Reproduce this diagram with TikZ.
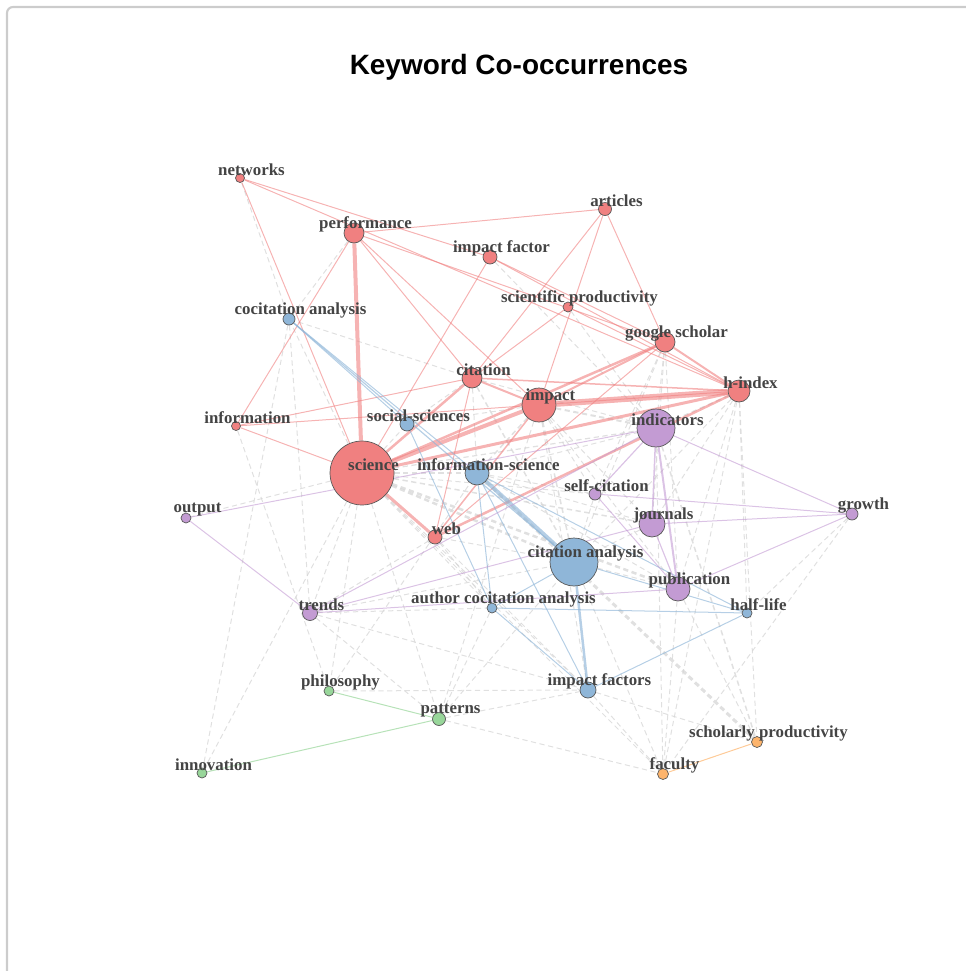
\documentclass[tikz,border=0pt]{standalone}
\usepackage{fontspec}
\newfontfamily\titlefont{Liberation Sans}
\newfontfamily\labelfont{Liberation Serif}
\pgfdeclarelayer{bg}
\pgfsetlayers{bg,main}
\definecolor{kwred}{HTML}{F08080}
\definecolor{kwblue}{HTML}{8FB6D8}
\definecolor{kwpurple}{HTML}{C39BD3}
\definecolor{kwgreen}{HTML}{98D69A}
\definecolor{kworange}{HTML}{FDB46C}
\definecolor{kwtext}{HTML}{444444}
\tikzstyle{kw}=[circle,draw=black!65,line width=0.4pt,inner sep=0pt]
\tikzstyle{lbl}=[xshift=0.23cm,yshift=0.17cm,inner sep=0pt,text=kwtext,font=\labelfont\bfseries\fontsize{9.6}{10}\selectfont]
\tikzstyle{redge}=[draw=kwred,opacity=0.6]
\tikzstyle{bedge}=[draw=kwblue,opacity=0.65]
\tikzstyle{pedge}=[draw=kwpurple,opacity=0.6]
\tikzstyle{gedge}=[draw=kwgreen,opacity=0.7]
\tikzstyle{oedge}=[draw=kworange,opacity=0.7]
\tikzstyle{xedge}=[draw=black!16,opacity=0.75,dash pattern=on 3pt off 2pt]

\begin{document}
\begin{tikzpicture}[x=0.02cm,y=-0.02cm]
	\def \px {0.57pt};
	\useasboundingbox (0,0) rectangle (966,971);
	\draw[black!20,line width=1.2pt,rounded corners=0.12cm] (966,7) -- (7,7) -- (7,975);
	\node[font=\titlefont\bfseries\fontsize{15.9}{19}\selectfont] (title) at (519,67) {Keyword Co-occurrences};

	\foreach \n/\x/\y/\rad/\lab in {NET/240/178/4.5/networks, PERF/354/233/10/performance,
		IF/490/257/7/impact factor, ART/605/209/6.5/articles, SP/568/307/5/scientific productivity,
		GS/665/342/10/google scholar, CIT/472/378/10/citation, IMP/539/405/17/impact,
		HI/739/391/11/h-index, INF/236/426/4.5/information, SCI/362/473/32/science, WEB/435/537/7/web} {
		\node[kw,fill=kwred,minimum size=\rad*0.04cm,label={[lbl]center:\lab}] (\n) at (\x,\y) {};
	};
	\foreach \n/\x/\y/\rad/\lab in {COC/289/319/6/cocitation analysis, SOC/407/424/7/social-sciences,
		ISC/477/473/12/information-science, CAN/574/562/24/citation analysis,
		ACA/492/608/5/author cocitation analysis, HL/747/613/5/half-life, IFS/588/690/8/impact factors} {
		\node[kw,fill=kwblue,minimum size=\rad*0.04cm,label={[lbl]center:\lab}] (\n) at (\x,\y) {};
	};
	\foreach \n/\x/\y/\rad/\lab in {IND/656/428/19/indicators, SELF/595/494/6/self-citation,
		JOU/652/524/13/journals, GRO/852/514/6/growth, PUB/678/589/12/publication,
		OUT/186/518/5/output, TRE/310/613/7.5/trends} {
		\node[kw,fill=kwpurple,minimum size=\rad*0.04cm,label={[lbl]center:\lab}] (\n) at (\x,\y) {};
	};
	\foreach \n/\x/\y/\rad/\lab in {PHI/329/691/5/philosophy, PAT/439/719/6.5/patterns, INN/202/773/5/innovation} {
		\node[kw,fill=kwgreen,minimum size=\rad*0.04cm,label={[lbl]center:\lab}] (\n) at (\x,\y) {};
	};
	\foreach \n/\x/\y/\rad/\lab in {SCH/757/742/5.5/scholarly productivity, FAC/663/774/5.5/faculty} {
		\node[kw,fill=kworange,minimum size=\rad*0.04cm,label={[lbl]center:\lab}] (\n) at (\x,\y) {};
	};

	\begin{pgfonlayer}{bg}
	\foreach \a/\b/\w in {ISC/SCH/3, SCI/PUB/2.5, SCI/CAN/2.5, SCI/JOU/1.5, SCI/IND/1.2, SCI/ISC/1.5,
		SCI/SOC/1, SCI/TRE/1, SCI/PHI/1, SCI/PAT/1, SCI/INN/1, SCI/OUT/1, SCI/ACA/1, SCI/IFS/1,
		SCI/FAC/1, SCI/SELF/1, SCI/COC/1, IMP/IND/2, IMP/CAN/1.5, IMP/ISC/1.5, IMP/JOU/1, IMP/PUB/1,
		IMP/SELF/1, IMP/IFS/1, IMP/SOC/1, IMP/PAT/1, HI/IND/1.5, HI/JOU/1, HI/PUB/1, HI/FAC/1,
		HI/HL/1, HI/SCH/1, HI/CAN/1, GS/IND/1, GS/JOU/1, GS/PUB/1, GS/SELF/1, GS/CAN/1,
		CIT/CAN/1.5, CIT/ISC/1, CIT/SOC/1, CIT/COC/1, CIT/IND/1, WEB/CAN/1, WEB/TRE/1, WEB/ACA/1,
		WEB/IFS/1, PERF/COC/1, NET/COC/1, INF/PHI/1, COC/TRE/1, COC/INN/1, TRE/PAT/1, TRE/IFS/1,
		TRE/ACA/1, TRE/CAN/1, PHI/ISC/1, PHI/IFS/1, PAT/CAN/1, PAT/ACA/1, PAT/FAC/1, PAT/IFS/1,
		IFS/SCH/1, IFS/FAC/1, PUB/FAC/1, PUB/SCH/1, IND/SCH/1.5, IND/FAC/1, CAN/PUB/1, CAN/JOU/1,
		CAN/SELF/1, CAN/FAC/1, ISC/PUB/1, ISC/JOU/1, ISC/SELF/1, ISC/IND/1, SP/IND/1, IF/IND/1,
		GRO/FAC/1, GRO/HL/1} {
		\draw[xedge,line width=\w*\px] (\a) -- (\b);
	};
	\foreach \a/\b/\w in {SCI/PERF/4, SCI/HI/3, SCI/IMP/4, SCI/GS/2.5, SCI/CIT/2.5, SCI/WEB/3,
		SCI/INF/1, SCI/IF/1, SCI/NET/1, IMP/HI/6, IMP/GS/2, IMP/CIT/2, IMP/WEB/1.5, IMP/ART/1,
		IMP/PERF/1, HI/GS/2, HI/CIT/1.5, HI/WEB/2.5, HI/IF/1, HI/SP/1, HI/NET/1, HI/INF/1,
		GS/ART/1, GS/IF/1, GS/PERF/1, GS/WEB/1, PERF/CIT/1, PERF/INF/1, PERF/ART/1, NET/IF/1,
		CIT/INF/1, CIT/WEB/1, CIT/ART/1, CIT/SP/1} {
		\draw[redge,line width=\w*\px] (\a) -- (\b);
	};
	\foreach \a/\b/\w in {COC/CAN/1.2, COC/ISC/1, COC/SOC/1, ISC/CAN/4, SOC/ACA/1, ISC/ACA/1,
		ISC/IFS/1, ISC/HL/1, CAN/IFS/2.5, CAN/HL/1, CAN/ACA/1, ACA/HL/1, IFS/HL/1, ACA/IFS/1} {
		\draw[bedge,line width=\w*\px] (\a) -- (\b);
	};
	\foreach \a/\b/\w in {IND/JOU/1.5, IND/PUB/2, IND/SELF/1.2, IND/GRO/1, IND/OUT/1, IND/TRE/1,
		SELF/GRO/1, SELF/PUB/1, JOU/GRO/1, PUB/GRO/1, JOU/PUB/1.2, JOU/TRE/1, TRE/PUB/1, TRE/OUT/1} {
		\draw[pedge,line width=\w*\px] (\a) -- (\b);
	};
	\draw[gedge,line width=\px] (PHI) -- (PAT);
	\draw[gedge,line width=\px] (INN) -- (PAT);
	\draw[oedge,line width=\px] (SCH) -- (FAC);
	\end{pgfonlayer}
\end{tikzpicture}
\end{document}
